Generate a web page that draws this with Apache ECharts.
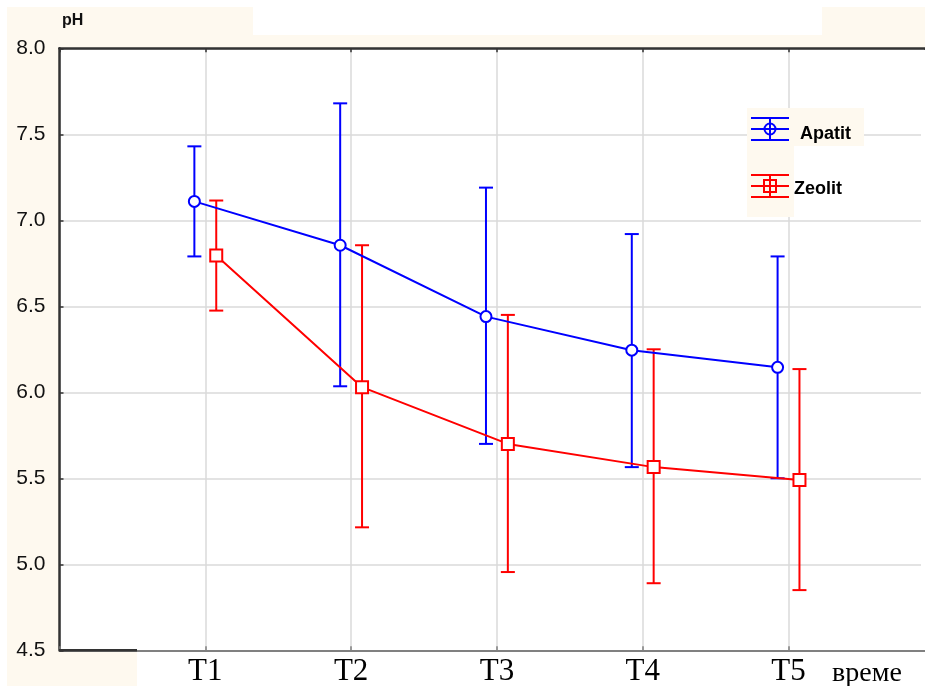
<!DOCTYPE html>
<html>
<head>
<meta charset="utf-8">
<script src="https://cdn.jsdelivr.net/npm/echarts@6/dist/echarts.min.js"></script>
<style>
  html, body { margin: 0; padding: 0; background: #ffffff; overflow: hidden; }
  #chart { width: 925px; height: 686px; }
</style>
</head>
<body>
<div id="chart"></div>
<script>
// Measurement times (x categories)
const categories = ['T1', 'T2', 'T3', 'T4', 'T5'];

// Apatit: mean pH with lower / upper error limits
const apatitMean = [7.11, 6.855, 6.44, 6.245, 6.145];
const apatitLow  = [6.79, 6.035, 5.70, 5.565, 5.50];
const apatitHigh = [7.43, 7.68, 7.19, 6.92, 6.79];

// Zeolit: mean pH with lower / upper error limits
const zeolitMean = [6.795, 6.03, 5.70, 5.565, 5.49];
const zeolitLow  = [6.475, 5.215, 4.955, 4.89, 4.85];
const zeolitHigh = [7.115, 6.855, 6.45, 6.25, 6.135];

// y axis range
const yMin = 4.5, yMax = 8.0, yStep = 0.5;

// x axis: time points sit at 1..5; the plot is cut at the right edge of the page
const xMin = 0, xMax = 5.936;

const BLUE = '#0000ff';
const RED = '#ff0000';
const BEIGE = '#fef9ef';
const SHIFT = 0.075; // horizontal dodge of the two groups around each time point

function pointData(means, dx) {
  return means.map((m, i) => [i + 1 + dx, m]);
}
function barData(lows, highs, dx) {
  return lows.map((lo, i) => [i + 1 + dx, lo, highs[i]]);
}

function errorBars(color) {
  return function (params, api) {
    const x = api.value(0);
    const bot = api.coord([x, api.value(1)]);
    const top = api.coord([x, api.value(2)]);
    const hw = 7;
    const st = { stroke: color, lineWidth: 2 };
    return {
      type: 'group',
      children: [
        { type: 'line', shape: { x1: top[0], y1: top[1], x2: bot[0], y2: bot[1] }, style: st },
        { type: 'line', shape: { x1: top[0] - hw, y1: top[1], x2: top[0] + hw, y2: top[1] }, style: st },
        { type: 'line', shape: { x1: bot[0] - hw, y1: bot[1], x2: bot[0] + hw, y2: bot[1] }, style: st }
      ]
    };
  };
}

const chart = echarts.init(document.getElementById('chart'), null, { renderer: 'canvas' });

const xLabel = v => (Number.isInteger(v) && v >= 1 && v <= categories.length) ? categories[v - 1] : '';

// legend symbol: error bar glyph with marker
function legendIcon(cx, cy, color, marker) {
  const st = { stroke: color, lineWidth: 2, fill: null };
  const items = [
    { type: 'line', z: 6, shape: { x1: cx - 19, y1: cy - 11, x2: cx + 19, y2: cy - 11 }, style: st },
    { type: 'line', z: 6, shape: { x1: cx - 19, y1: cy, x2: cx + 19, y2: cy }, style: st },
    { type: 'line', z: 6, shape: { x1: cx - 19, y1: cy + 11, x2: cx + 19, y2: cy + 11 }, style: st },
    { type: 'line', z: 6, shape: { x1: cx, y1: cy - 11, x2: cx, y2: cy + 11 }, style: st }
  ];
  if (marker === 'circle') {
    items.push({ type: 'circle', z: 6, shape: { cx: cx, cy: cy, r: 5.5 }, style: { stroke: color, lineWidth: 2, fill: 'transparent' } });
  } else {
    items.push({ type: 'rect', z: 6, shape: { x: cx - 6, y: cy - 6, width: 12, height: 12 }, style: { stroke: color, lineWidth: 2, fill: 'transparent' } });
  }
  return items;
}

const option = {
  animation: false,
  backgroundColor: '#ffffff',
  grid: { left: 59.5, top: 48.3, width: 865.5, height: 602, containLabel: false, outerBoundsMode: 'none' },
  xAxis: [
    {
      type: 'value', position: 'bottom', min: xMin, max: xMax, interval: 1,
      axisLine: { show: true, lineStyle: { color: '#808080', width: 2 } },
      axisTick: { show: true, inside: true, length: 4, lineStyle: { color: '#808080', width: 1.5 } },
      axisLabel: {
        formatter: xLabel, margin: 6, showMaxLabel: false,
        fontFamily: 'Liberation Serif', fontSize: 31, color: '#000'
      },
      splitLine: { show: true, showMaxLine: false, lineStyle: { color: '#dadada', width: 1.5 } }
    },
    {
      type: 'value', position: 'top', min: xMin, max: xMax, interval: 1,
      axisLine: { show: true, lineStyle: { color: '#333', width: 2.5 } },
      axisTick: { show: true, inside: true, length: 4, lineStyle: { color: '#333', width: 1.5 } },
      axisLabel: { show: false },
      splitLine: { show: false }
    }
  ],
  yAxis: {
    type: 'value', min: yMin, max: yMax, interval: yStep,
    axisLine: { show: true, lineStyle: { color: '#333', width: 2.5 } },
    axisTick: { show: true, inside: true, length: 4, lineStyle: { color: '#333', width: 1.5 } },
    axisLabel: {
      formatter: v => v.toFixed(1), margin: 14,
      fontFamily: 'Liberation Sans', fontSize: 21, color: '#111'
    },
    splitLine: { show: true, lineStyle: { color: '#dadada', width: 1.5 } }
  },
  graphic: [
    // framing panels around the plot
    { type: 'rect', z: -1, shape: { x: 7, y: 7, width: 918, height: 41 }, style: { fill: BEIGE } },
    { type: 'rect', z: -1, shape: { x: 253, y: 7, width: 569, height: 28 }, style: { fill: '#ffffff' } },
    { type: 'rect', z: -1, shape: { x: 7, y: 48, width: 52, height: 638 }, style: { fill: BEIGE } },
    { type: 'rect', z: -1, shape: { x: 7, y: 651, width: 130, height: 35 }, style: { fill: BEIGE } },
    // open right side of the plot frame
    { type: 'rect', z: 10, shape: { x: 921, y: 50, width: 4, height: 599 }, style: { fill: '#ffffff' } },
    { type: 'line', z: 4, shape: { x1: 59, y1: 650.3, x2: 137, y2: 650.3 }, style: { stroke: '#333', lineWidth: 2.5 } },
    { type: 'text', z: 5, style: { text: 'pH', x: 62, y: 21, textVerticalAlign: 'middle', font: 'bold 16px "Liberation Sans"', fill: '#111' } },
    { type: 'text', z: 5, style: { text: 'време', x: 867, y: 674, textAlign: 'center', textVerticalAlign: 'middle', font: '28px "Liberation Serif"', fill: '#000' } },
    // legend panel
    { type: 'rect', z: 3, shape: { x: 747, y: 108, width: 117, height: 38 }, style: { fill: BEIGE } },
    { type: 'rect', z: 3, shape: { x: 747, y: 108, width: 47, height: 109 }, style: { fill: BEIGE } },
    ...legendIcon(770, 129, BLUE, 'circle'),
    ...legendIcon(770, 186, RED, 'rect'),
    { type: 'text', z: 6, style: { text: 'Apatit', x: 800, y: 134, textVerticalAlign: 'middle', font: 'bold 18px "Liberation Sans"', fill: '#000' } },
    { type: 'text', z: 6, style: { text: 'Zeolit', x: 794, y: 189, textVerticalAlign: 'middle', font: 'bold 18px "Liberation Sans"', fill: '#000' } }
  ],
  series: [
    {
      name: 'Apatit', type: 'custom', z: 3,
      renderItem: errorBars(BLUE),
      encode: { x: 0, y: [1, 2] },
      data: barData(apatitLow, apatitHigh, -SHIFT)
    },
    {
      name: 'Zeolit', type: 'custom', z: 3,
      renderItem: errorBars(RED),
      encode: { x: 0, y: [1, 2] },
      data: barData(zeolitLow, zeolitHigh, SHIFT)
    },
    {
      name: 'Apatit', type: 'line', z: 4,
      data: pointData(apatitMean, -SHIFT),
      symbol: 'emptyCircle', symbolSize: 11,
      lineStyle: { color: BLUE, width: 2 },
      itemStyle: { color: BLUE, borderColor: BLUE, borderWidth: 2 }
    },
    {
      name: 'Zeolit', type: 'line', z: 4,
      data: pointData(zeolitMean, SHIFT),
      symbol: 'emptyRect', symbolSize: 12,
      lineStyle: { color: RED, width: 2 },
      itemStyle: { color: RED, borderColor: RED, borderWidth: 2 }
    }
  ]
};

chart.setOption(option);
</script>
</body>
</html>
